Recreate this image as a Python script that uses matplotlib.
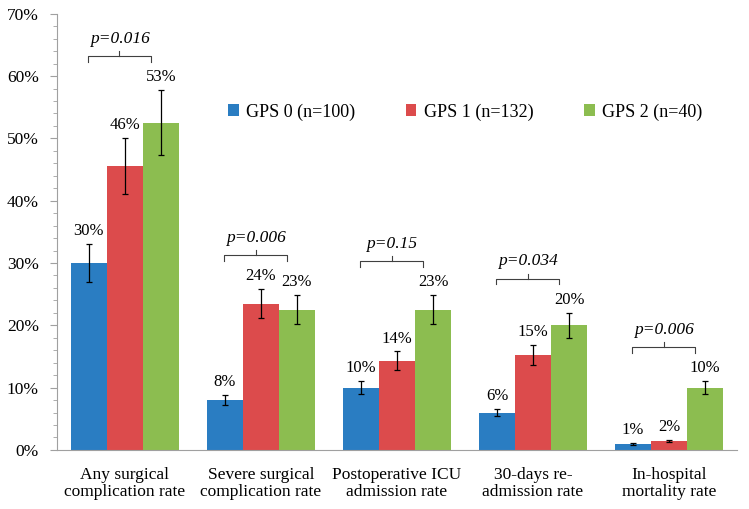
import numpy as np
import matplotlib
matplotlib.use("Agg")
from matplotlib import pyplot as plt
from matplotlib.ticker import MultipleLocator, FuncFormatter

plt.rcParams['font.family'] = ['Liberation Serif', 'DejaVu Serif']

categories = ['Any surgical\ncomplication rate', 'Severe surgical\ncomplication rate',
              'Postoperative ICU\nadmission rate', '30-days re-\nadmission rate',
              'In-hospital\nmortality rate']
groups = ['GPS 0 (n=100)', 'GPS 1 (n=132)', 'GPS 2 (n=40)']
gps0 = [30.0, 8.0, 10.0, 6.0, 1.0]
gps1 = [45.5, 23.5, 14.3, 15.2, 1.5]
gps2 = [52.5, 22.5, 22.5, 20.0, 10.0]
err0 = [3.0, 0.8, 1.0, 0.6, 0.15]
err1 = [4.5, 2.3, 1.5, 1.6, 0.15]
err2 = [5.2, 2.3, 2.3, 2.0, 1.0]
labels0 = ['30%', '8%', '10%', '6%', '1%']
labels1 = ['46%', '24%', '14%', '15%', '2%']
labels2 = ['53%', '23%', '23%', '20%', '10%']
p_values = ['p=0.016', 'p=0.006', 'p=0.15', 'p=0.034', 'p=0.006']

colors = ['#2a7dc2', '#dc4b4c', '#8cbd50']
values = [gps0, gps1, gps2]
errors = [err0, err1, err2]
texts = [labels0, labels1, labels2]

fig = plt.figure(figsize=(7.49, 5.09), dpi=100)
ax = fig.add_axes([0.076, 0.116, 0.908, 0.857])

x = np.arange(len(categories))
w = 0.265
for i in range(3):
    pos = x + (i - 1) * w
    ax.bar(pos, values[i], w, color=colors[i], label=groups[i], zorder=2)
    ax.errorbar(pos, values[i], yerr=errors[i], fmt='none', ecolor='black',
                elinewidth=0.9, capsize=2.5, capthick=0.9, zorder=3)
    for xp, v, e, t in zip(pos, values[i], errors[i], texts[i]):
        ax.text(xp, v + e + 0.8, t, ha='center', va='bottom', fontsize=12)

# brackets with p values
for j in range(len(categories)):
    top = max(values[k][j] + errors[k][j] for k in range(3))
    yb = top + 5.5
    cx = x[j] - 0.04
    hw = 0.23
    ax.plot([cx - hw, cx - hw, cx + hw, cx + hw], [yb - 0.9, yb, yb, yb - 0.9],
            color='#404040', lw=0.8)
    ax.plot([cx, cx], [yb, yb + 0.8], color='#404040', lw=0.8)
    ax.text(cx, yb + 1.5, p_values[j], ha='center', va='bottom', fontsize=12.5,
            style='italic')

ax.set_xlim(-0.5, 4.5)
ax.set_ylim(0, 70)
ax.yaxis.set_major_locator(MultipleLocator(10))
ax.yaxis.set_minor_locator(MultipleLocator(2))
ax.yaxis.set_major_formatter(FuncFormatter(lambda v, p: '%d%%' % v))
ax.set_xticks(x)
ax.set_xticklabels(categories, fontsize=12.5, linespacing=1.12)
ax.tick_params(axis='x', length=0, pad=12)
ax.tick_params(axis='y', which='both', direction='out', color='#a0a0a0',
               labelsize=12.5, pad=8)
ax.tick_params(axis='y', which='major', length=5)
ax.tick_params(axis='y', which='minor', length=3)
ax.spines['top'].set_visible(False)
ax.spines['right'].set_visible(False)
ax.spines['left'].set_color('#a0a0a0')
ax.spines['bottom'].set_color('#a0a0a0')

ax.legend(loc='center', bbox_to_anchor=(0.6, 0.775), ncol=3, frameon=False,
          fontsize=13, handlelength=0.6, handleheight=0.6, handletextpad=0.4,
          columnspacing=2.8)

fig.savefig('out.png', dpi=100)
